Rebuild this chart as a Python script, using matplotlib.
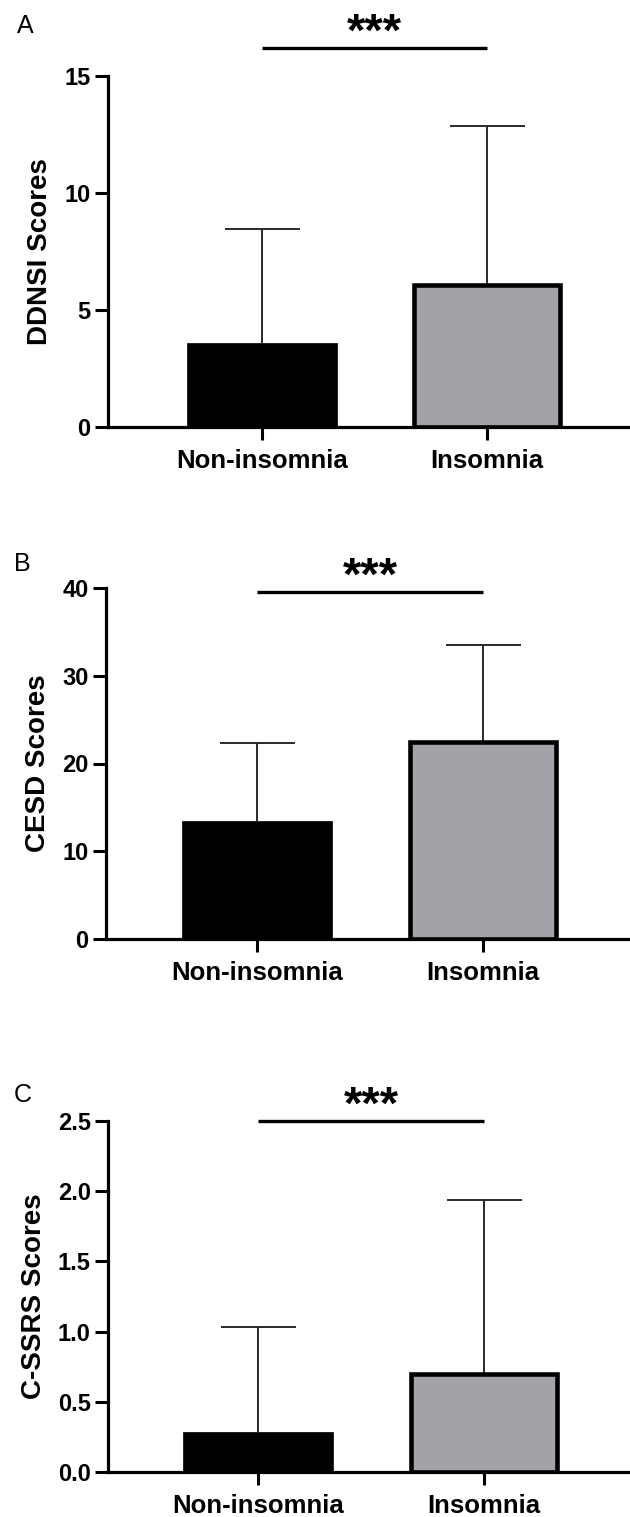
import matplotlib
matplotlib.use("Agg")
import matplotlib.pyplot as plt

plt.rcParams['font.family'] = ['Liberation Sans', 'DejaVu Sans']

groups = ["Non-insomnia", "Insomnia"]
panel_letters = ["A", "B", "C"]
ylabels = ["DDNSI Scores", "CESD Scores", "C-SSRS Scores"]

ddnsi_mean = [3.6, 6.05]
ddnsi_sd = [4.85, 6.8]
cesd_mean = [13.5, 22.5]
cesd_sd = [8.8, 11.0]
cssrs_mean = [0.285, 0.70]
cssrs_sd = [0.745, 1.24]

yticks_a = [0, 5, 10, 15]
yticks_b = [0, 10, 20, 30, 40]
yticks_c = [0.0, 0.5, 1.0, 1.5, 2.0, 2.5]
ytick_labels_c = ["0.0", "0.5", "1.0", "1.5", "2.0", "2.5"]

sig_text = "***"

W, H = 630, 1517
fig = plt.figure(figsize=(W / 100, H / 100), dpi=100)

# layout in pixels: (axis_left, axis_top, axis_bottom, tick0_x, tick1_x)
layouts = [
    (108, 76, 427, 262, 487),
    (106, 588, 939, 257, 483),
    (108, 1121, 1472, 258, 484),
]
panels = [
    (ddnsi_mean, ddnsi_sd, yticks_a, [str(t) for t in yticks_a], 15, 16.2),
    (cesd_mean, cesd_sd, yticks_b, [str(t) for t in yticks_b], 40, 39.6),
    (cssrs_mean, cssrs_sd, yticks_c, ytick_labels_c, 2.5, 2.5),
]
colors = ["#000000", "#a4a2a8"]
letter_pos = [(17, 14), (14, 552), (14, 1083)]

for i, ((left, top, bottom, t0, t1), (means, sds, yt, ytl, ymax, sig_y)) in enumerate(zip(layouts, panels)):
    ax = fig.add_axes([left / W, (H - bottom) / H, (W - left) / W, (bottom - top) / H])
    unit = t1 - t0
    ax.set_xlim(-(t0 - left) / unit, 1 + (W - t1) / unit)
    ax.set_ylim(0, ymax)
    x = [0, 1]
    bw = 150 / unit
    # error bars (upper only)
    for xi, m, s in zip(x, means, sds):
        eb = ax.errorbar([xi], [m], yerr=[[0], [s]], fmt='none', ecolor='#2a2a2a',
                         elinewidth=1.4, capsize=27, capthick=1.4, zorder=1)
        caps = eb[1]
        if len(caps) > 1:
            caps[0].set_visible(False)
    ax.bar([0], [means[0]], width=bw, color=colors[0], edgecolor='black', linewidth=0.5, zorder=2)
    ax.bar([1], [means[1]], width=bw - 4.5 / unit, color=colors[1], edgecolor='black', linewidth=3.3, zorder=2)

    for sp in ['top', 'right']:
        ax.spines[sp].set_visible(False)
    for sp in ['left', 'bottom']:
        ax.spines[sp].set_linewidth(2.3)
    ax.set_xticks(x)
    ax.set_xticklabels(groups, fontsize=18.5, fontweight='bold')
    ax.set_yticks(yt)
    ax.set_yticklabels(ytl, fontsize=17, fontweight='bold')
    ax.tick_params(axis='both', direction='out', length=9.5, width=2.2)
    ax.tick_params(axis='x', pad=6)
    ax.tick_params(axis='y', pad=3)
    ax.set_ylabel(ylabels[i], fontsize=20, fontweight='bold', labelpad=8)

    ax.plot([0, 1], [sig_y, sig_y], color='black', linewidth=2.4, clip_on=False, solid_capstyle='butt')
    ax.annotate(sig_text, xy=(0.5, sig_y), xytext=(0, 10), textcoords='offset points',
                ha='center', va='center', fontsize=34, fontweight='bold', annotation_clip=False)

    lx, ly = letter_pos[i]
    fig.text(lx / W, 1 - ly / H, panel_letters[i], fontsize=18, ha='left', va='top')

fig.savefig("out.png", dpi=100)
